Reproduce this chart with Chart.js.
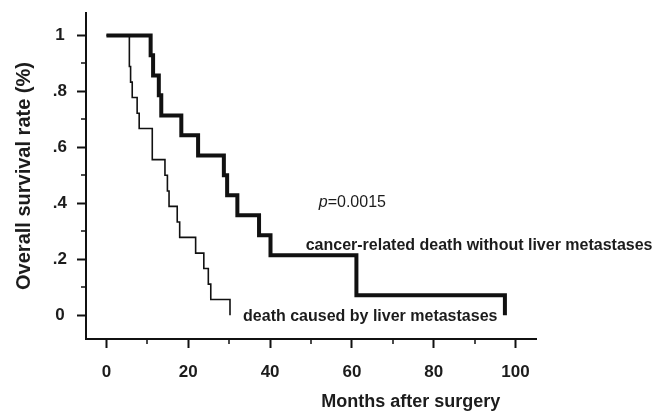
<!DOCTYPE html>
<html>
<head>
<meta charset="utf-8">
<script src="https://cdn.jsdelivr.net/npm/chart.js@4.4.1/dist/chart.umd.min.js"></script>
<style>
  html, body { margin: 0; padding: 0; background: #fff; }
</style>
</head>
<body>
<canvas id="km" width="660" height="412"></canvas>
<script>
// Kaplan-Meier steps (months, survival fraction)
const noLiverMonths = [0, 10.8, 11.4, 12.8, 13.4, 18.3, 22.4, 28.7, 29.5, 32.0, 37.3, 40.1, 61.1, 97.4];
const noLiverSurvival = [1, 0.929, 0.857, 0.786, 0.714, 0.643, 0.571, 0.5, 0.429, 0.357, 0.286, 0.214, 0.071, 0];
const liverMonths = [0, 5.6, 5.9, 6.3, 7.5, 8.0, 11.2, 14.3, 14.9, 15.3, 17.3, 17.9, 21.8, 23.8, 24.9, 25.5, 30.2];
const liverSurvival = [1, 0.889, 0.833, 0.778, 0.722, 0.667, 0.556, 0.5, 0.444, 0.389, 0.333, 0.278, 0.222, 0.167, 0.111, 0.056, 0];

const xTicks = [0, 20, 40, 60, 80, 100];
const xMinorTicks = [10, 30, 50, 70, 90];
const yTicks = [0, 0.2, 0.4, 0.6, 0.8, 1];
const yTickLabels = ['0', '.2', '.4', '.6', '.8', '1'];
const yMinorTicks = [0.1, 0.3, 0.5, 0.7, 0.9];

const FONT = "'Liberation Sans', Arial, sans-serif";
const INK = '#111';
const TEXT = '#1c1c1c';

function toPoints(xs, ys) {
  return xs.map((x, i) => ({ x, y: ys[i] }));
}

// minor ticks, curve labels, p value and x title
const annotate = {
  id: 'annotate',
  afterDraw(chart) {
    const { ctx, scales: { x, y } } = chart;
    ctx.save();

    ctx.strokeStyle = INK;
    ctx.lineWidth = 1.5;
    ctx.beginPath();
    xMinorTicks.forEach(v => {
      const px = Math.round(x.getPixelForValue(v));
      ctx.moveTo(px, y.bottom);
      ctx.lineTo(px, y.bottom + 5);
    });
    yMinorTicks.forEach(v => {
      const py = Math.round(y.getPixelForValue(v));
      ctx.moveTo(x.left, py);
      ctx.lineTo(x.left - 5, py);
    });
    ctx.stroke();

    ctx.fillStyle = TEXT;
    ctx.textBaseline = 'middle';
    ctx.textAlign = 'left';

    // p=0.0015 with italic p
    let px = x.getPixelForValue(51.9);
    const py = y.getPixelForValue(0.401);
    ctx.font = `italic 16px ${FONT}`;
    ctx.fillText('p', px, py);
    px += ctx.measureText('p').width;
    ctx.font = `16px ${FONT}`;
    ctx.fillText('=0.0015', px, py);

    ctx.font = `bold 16px ${FONT}`;
    ctx.fillText('cancer-related death without liver metastases', x.getPixelForValue(48.7), y.getPixelForValue(0.248));
    ctx.fillText('death caused by liver metastases', x.getPixelForValue(33.4), y.getPixelForValue(-0.006));

    ctx.textAlign = 'center';
    ctx.font = `bold 18px ${FONT}`;
    ctx.fillText('Months after surgery', x.getPixelForValue(74.4), y.bottom + 63);

    ctx.restore();
  },
};

new Chart(document.getElementById('km'), {
  type: 'line',
  data: {
    datasets: [
      {
        data: toPoints(liverMonths, liverSurvival),
        borderColor: INK,
        borderWidth: 1.6,
        stepped: true,
        pointRadius: 0,
        fill: false,
      },
      {
        data: toPoints(noLiverMonths, noLiverSurvival),
        borderColor: INK,
        borderWidth: 4,
        stepped: true,
        pointRadius: 0,
        fill: false,
      },
    ],
  },
  options: {
    responsive: false,
    animation: false,
    devicePixelRatio: 1,
    layout: { padding: { left: 0, top: 13, right: 124, bottom: 0 } },
    plugins: {
      legend: { display: false },
      tooltip: { enabled: false },
    },
    scales: {
      x: {
        type: 'linear',
        min: -5,
        max: 105,
        afterBuildTicks: s => { s.ticks = xTicks.map(v => ({ value: v })); },
        afterFit: s => {
          s.height = 73;
          s.paddingLeft = 0;
          s.paddingRight = 0;
        },
        border: { display: true, color: INK, width: 2 },
        grid: { drawOnChartArea: false, drawTicks: true, tickLength: 9, tickWidth: 2, tickColor: INK },
        ticks: {
          color: TEXT,
          font: { family: FONT, size: 17, weight: 'bold' },
          padding: 14,
          maxRotation: 0,
          autoSkip: false,
        },
      },
      y: {
        type: 'linear',
        min: -0.085,
        max: 1.08,
        afterBuildTicks: s => { s.ticks = yTicks.map(v => ({ value: v })); },
        afterFit: s => {
          s.width = 86;
          s.paddingTop = 0;
          s.paddingBottom = 0;
        },
        border: { display: true, color: INK, width: 2 },
        grid: { drawOnChartArea: false, drawTicks: true, tickLength: 9, tickWidth: 2, tickColor: INK },
        ticks: {
          color: TEXT,
          font: { family: FONT, size: 17, weight: 'bold' },
          padding: 10,
          crossAlign: 'center',
          autoSkip: false,
          callback: (v, i) => yTickLabels[i],
        },
        title: {
          display: true,
          text: 'Overall survival rate (%)',
          color: TEXT,
          font: { family: FONT, size: 20, weight: 'bold' },
          padding: { top: 12, bottom: 0 },
        },
      },
    },
  },
  plugins: [annotate],
});
</script>
</body>
</html>
